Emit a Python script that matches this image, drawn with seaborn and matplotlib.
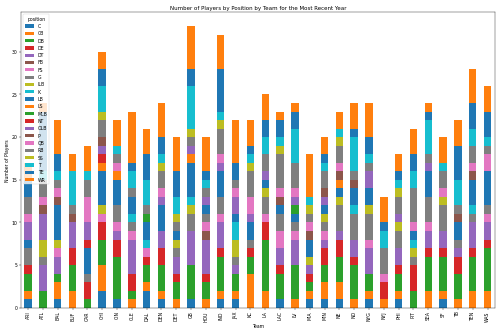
import matplotlib
matplotlib.use("Agg")
import matplotlib.pyplot as plt
import seaborn as sns
import numpy as np
import pandas as pd

# 球隊
teams = ["ARI", "ATL", "BAL", "BUF", "CAR", "CHI", "CIN", "CLE", "DAL", "DEN", "DET",
         "GB", "HOU", "IND", "JAX", "KC", "LA", "LAC", "LV", "MIA", "MIN", "NE", "NO",
         "NYG", "NYJ", "PHI", "PIT", "SEA", "SF", "TB", "TEN", "WAS"]

# 每個位置各隊人數
C   = [1,0,1,0,0,2,1,0,2,1,0,1,0,1,1,0,0,1,0,1,1,1,0,1,0,1,0,0,1,0,0,0]
CB  = [1,0,2,2,0,3,0,1,1,1,1,0,1,1,1,4,2,0,1,1,2,2,1,1,1,1,0,2,1,1,2,2]
DB  = [2,2,1,3,1,3,5,1,2,3,2,4,2,4,2,2,6,3,4,1,2,3,4,2,0,2,2,4,4,3,4,5]
DE  = [1,0,0,2,2,2,2,2,1,2,1,0,1,1,0,1,2,1,0,1,2,2,1,0,2,1,3,1,1,2,1,1]
DT  = [0,3,2,3,0,0,1,4,0,2,2,4,4,3,1,0,0,2,3,1,1,1,2,3,0,2,0,2,2,1,3,2]
FB  = [0,0,0,1,0,0,0,0,0,0,0,0,1,0,0,0,0,0,0,0,0,0,0,0,0,0,0,0,0,0,0,0]
FS  = [0,0,1,0,0,1,1,1,1,0,0,0,1,1,0,0,1,2,1,0,1,0,0,1,1,0,0,1,0,0,0,1]
G   = [2,1,0,1,1,0,2,1,0,0,1,2,1,2,1,1,2,2,1,0,1,3,3,3,3,2,1,3,3,1,1,1]
ILB = [0,2,1,0,0,1,0,0,0,0,1,1,0,0,2,0,1,0,0,1,1,1,0,1,0,1,1,0,1,0,0,0]
K   = [0,0,0,4,0,0,0,1,1,0,0,1,0,0,2,0,0,0,0,0,0,0,1,0,2,0,1,0,0,0,1,0]
LB  = [1,0,4,0,3,4,3,2,2,3,1,4,1,3,1,2,1,1,1,2,1,1,2,2,1,0,1,3,0,2,3,4]
LS  = [0,0,0,0,0,1,1,0,0,0,0,1,0,0,0,0,0,0,0,0,0,1,0,0,0,0,0,0,0,0,0,0]
MLB = [0,0,0,0,0,0,0,0,1,0,0,0,0,0,0,0,0,0,1,0,0,0,0,0,0,0,0,0,0,0,0,0]
NT  = [0,0,0,0,1,1,0,0,0,0,0,0,0,0,0,0,0,0,0,0,0,0,0,0,0,0,0,0,0,0,0,0]
OLB = [2,3,0,0,2,1,0,0,0,1,0,1,1,1,2,1,1,0,1,0,1,0,0,2,0,1,0,1,0,0,0,0]
P   = [0,1,1,0,0,1,0,0,0,0,0,0,0,0,0,0,0,1,0,1,1,1,1,0,0,0,0,0,0,1,1,0]
QB  = [1,1,1,0,3,0,1,0,0,1,0,0,0,1,1,2,0,1,1,1,0,1,0,0,0,0,1,0,1,0,1,2]
RB  = [2,2,1,0,2,2,1,1,1,2,1,1,1,3,1,3,2,4,3,1,2,2,1,1,0,2,4,1,2,1,2,1]
SS  = [0,0,0,0,0,1,0,0,0,1,1,1,0,1,0,1,0,1,0,1,0,1,0,0,0,1,0,0,0,0,0,0]
T   = [0,1,1,0,1,3,1,2,3,1,2,5,1,1,0,1,2,1,4,1,1,1,4,1,0,1,2,4,1,3,2,1]
TE  = [2,7,2,0,0,2,0,1,3,2,3,2,1,5,2,1,2,2,2,0,1,0,1,2,0,1,2,1,0,4,3,3]
WR  = [2,1,4,2,3,2,3,6,3,4,4,5,4,4,5,3,3,1,1,5,2,2,3,4,3,2,3,1,3,3,4,3]

positions = ["C", "CB", "DB", "DE", "DT", "FB", "FS", "G", "ILB", "K", "LB", "LS",
             "MLB", "NT", "OLB", "P", "QB", "RB", "SS", "T", "TE", "WR"]
counts = [C, CB, DB, DE, DT, FB, FS, G, ILB, K, LB, LS,
          MLB, NT, OLB, P, QB, RB, SS, T, TE, WR]

df = pd.DataFrame(dict(zip(positions, counts)), index=teams)

colors = sns.color_palette("tab10", 10)

fig, ax = plt.subplots(figsize=(15, 10))

# 堆疊長條圖
bottom = np.zeros(len(teams))
for i, pos in enumerate(positions):
    sns.barplot(x=df.index, y=df[pos].values, bottom=bottom, color=colors[i % 10],
                saturation=1, width=0.5, errorbar=None, label=pos,
                linewidth=0, edgecolor="none", ax=ax)
    bottom = bottom + df[pos].values

ax.set_title("Number of Players by Position by Team for the Most Recent Year")
ax.set_xlabel("Team")
ax.set_ylabel("Number of Players")
ax.set_ylim(0, bottom.max() * 1.05)
plt.xticks(rotation=90)
ax.legend(title="position", loc="upper left")

plt.tight_layout()
plt.savefig("out.png", dpi=100 / 3)
